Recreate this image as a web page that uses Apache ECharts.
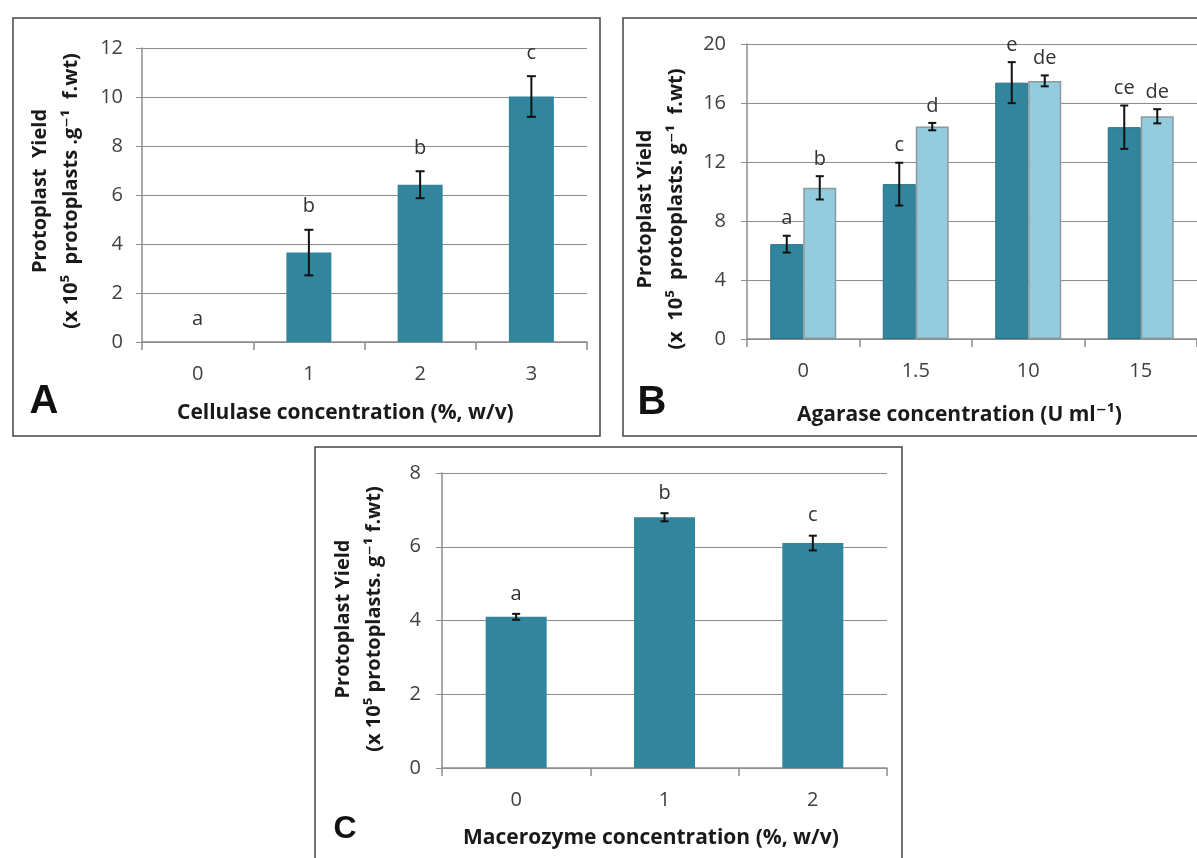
<!DOCTYPE html>
<html>
<head>
<meta charset="utf-8">
<script src="https://cdn.jsdelivr.net/npm/echarts@6/dist/echarts.min.js"></script>
<style>
  html, body { margin: 0; padding: 0; background: #fff; }
  #main { width: 1197px; height: 858px; }
</style>
</head>
<body>
<div id="main"></div>
<script>
// Panel A - cellulase
var catA = ['0', '1', '2', '3'];
var valA = [0, 3.65, 6.42, 10.02];
var errA = [0, 0.93, 0.55, 0.83];
var letA = ['a', 'b', 'b', 'c'];

// Panel B - agarase (two series)
var catB = ['0', '1.5', '10', '15'];
var valB1 = [6.43, 10.5, 17.38, 14.36];
var errB1 = [0.57, 1.45, 1.39, 1.47];
var letB1 = ['a', 'c', 'e', 'ce'];
var valB2 = [10.25, 14.4, 17.5, 15.1];
var errB2 = [0.79, 0.25, 0.37, 0.48];
var letB2 = ['b', 'd', 'de', 'de'];

// Panel C - macerozyme
var catC = ['0', '1', '2'];
var valC = [4.1, 6.8, 6.1];
var errC = [0.08, 0.11, 0.2];
var letC = ['a', 'b', 'c'];

var DARK = '#31859c';
var LIGHT = '#93cddd';
var AXIS = '#8c8c8c';
var FONT = '"Open Sans", "DejaVu Sans", sans-serif';

function catAxis(gi, cats) {
    return {
        type: 'category', gridIndex: gi, data: cats,
        axisLine: { lineStyle: { color: AXIS, width: 1.5 } },
        axisTick: { show: true, length: 8, lineStyle: { color: AXIS, width: 1.5 } },
        axisLabel: { margin: 22, color: '#404040', fontSize: 20, fontFamily: FONT },
        splitLine: { show: false }
    };
}

function valAxis(gi, max, step, margin) {
    return {
        type: 'value', gridIndex: gi, min: 0, max: max, interval: step,
        axisLine: { show: true, lineStyle: { color: AXIS, width: 1.5 } },
        axisTick: { show: true, length: 6, lineStyle: { color: AXIS, width: 1 } },
        axisLabel: { margin: margin, color: '#404040', fontSize: 20, fontFamily: FONT },
        splitLine: { show: true, lineStyle: { color: AXIS, width: 1 } }
    };
}

// error bars + significance letters
function errSeries(gi, vals, errs, lets, shift, gap, cap) {
    return {
        type: 'custom', xAxisIndex: gi, yAxisIndex: gi, z: 5, clip: false,
        data: vals.map(function (v, i) { return [i, v, errs[i]]; }),
        renderItem: function (params, api) {
            var i = api.value(0), v = api.value(1), e = api.value(2);
            var x = api.coord([i, 0])[0] + shift;
            var yt = api.coord([i, v + e])[1];
            var yb = api.coord([i, v - e])[1];
            var st = { stroke: '#111', lineWidth: 2 };
            var kids = [];
            if (e > 0) {
                kids.push({ type: 'line', shape: { x1: x, y1: yt, x2: x, y2: yb }, style: st });
                kids.push({ type: 'line', shape: { x1: x - cap, y1: yt, x2: x + cap, y2: yt }, style: st });
                kids.push({ type: 'line', shape: { x1: x - cap, y1: yb, x2: x + cap, y2: yb }, style: st });
            }
            kids.push({
                type: 'text',
                style: {
                    text: lets[params.dataIndex], x: x, y: yt - gap,
                    textAlign: 'center', textVerticalAlign: 'middle',
                    fontSize: 20, fontFamily: FONT, fill: '#333'
                }
            });
            return { type: 'group', children: kids };
        }
    };
}

function yTitle(x, y, lines) {
    return {
        type: 'text', x: x, y: y, rotation: Math.PI / 2,
        style: {
            text: lines.join('\n'), lineHeight: 31,
            textAlign: 'center', textVerticalAlign: 'middle',
            fontSize: 20, fontWeight: 'bold', fontFamily: FONT, fill: '#1a1a1a'
        }
    };
}

function xTitle(x, y, txt) {
    return {
        type: 'text', x: x, y: y,
        style: {
            text: txt, textAlign: 'left', textVerticalAlign: 'middle',
            fontSize: 21, fontWeight: 'bold', fontFamily: FONT, fill: '#1a1a1a'
        }
    };
}

function letter(x, y, txt, size) {
    return {
        type: 'text', x: x, y: y,
        style: {
            text: txt, textAlign: 'center', textVerticalAlign: 'middle',
            fontSize: size, fontWeight: 'bold', fontFamily: '"Liberation Sans", Arial, sans-serif', fill: '#111'
        }
    };
}

function frame(x, y, w, h) {
    return { type: 'rect', shape: { x: x, y: y, width: w, height: h }, style: { fill: 'none', stroke: '#444', lineWidth: 1.5 } };
}

var myChart = echarts.init(document.getElementById('main'));

var option = {
    animation: false,
    backgroundColor: '#fff',
    grid: [
        { left: 142, top: 48, width: 445, height: 294 },
        { left: 747, top: 44, width: 450, height: 295 },
        { left: 442, top: 473, width: 445, height: 295 }
    ],
    xAxis: [catAxis(0, catA), catAxis(1, catB), catAxis(2, catC)],
    yAxis: [valAxis(0, 12, 2, 19), valAxis(1, 20, 4, 21), valAxis(2, 8, 2, 21)],
    series: [
        { type: 'bar', xAxisIndex: 0, yAxisIndex: 0, data: valA, barWidth: 45, itemStyle: { color: DARK } },
        errSeries(0, valA, errA, letA, 0, 23, 4.5),

        { type: 'bar', xAxisIndex: 1, yAxisIndex: 1, data: valB1, barWidth: 33, barGap: '0%',
          itemStyle: { color: DARK, borderColor: '#2a6f82', borderWidth: 1 } },
        { type: 'bar', xAxisIndex: 1, yAxisIndex: 1, data: valB2, barWidth: 33, barGap: '0%',
          itemStyle: { color: LIGHT, borderColor: '#8a9a9f', borderWidth: 1.5 } },
        errSeries(1, valB1, errB1, letB1, -16.5, 17, 4),
        errSeries(1, valB2, errB2, letB2, 16.5, 17, 4),

        { type: 'bar', xAxisIndex: 2, yAxisIndex: 2, data: valC, barWidth: 61, itemStyle: { color: DARK } },
        errSeries(2, valC, errC, letC, 0, 20, 4)
    ],
    graphic: [
        frame(13, 18, 587, 418),
        frame(623, 18, 600, 418),
        frame(315, 447, 587, 450),

        yTitle(56, 191, ['Protoplast  Yield', '(x 10\u2075  protoplasts .g\u207b\u00b9  f.wt)']),
        yTitle(661, 209, ['Protoplast Yield', '(x  10\u2075  protoplasts. g\u207b\u00b9  f.wt)']),
        yTitle(359, 619, ['Protoplast Yield', '(x 10\u2075 protoplasts. g\u207b\u00b9 f.wt)']),

        xTitle(177, 413, 'Cellulase concentration (%, w/v)'),
        xTitle(797, 415, 'Agarase concentration (U ml\u207b\u00b9)'),
        xTitle(463, 838, 'Macerozyme concentration (%, w/v)'),

        letter(44, 402, 'A', 40),
        letter(652, 403, 'B', 40),
        letter(345, 829, 'C', 32)
    ]
};

myChart.setOption(option);
</script>
</body>
</html>
